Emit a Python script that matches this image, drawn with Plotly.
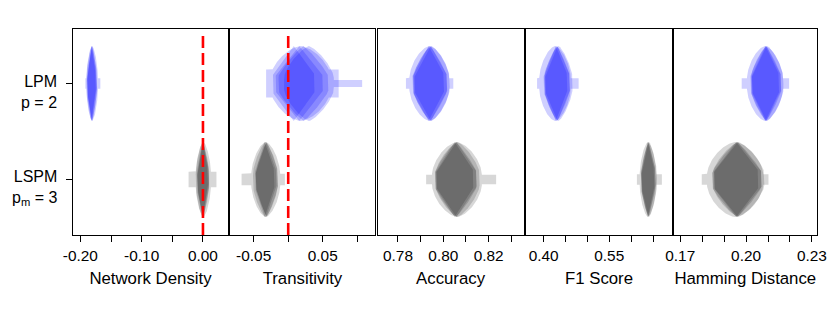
import numpy as np
import plotly.graph_objects as go

# ---------------- data ----------------
metrics = ["Network Density", "Transitivity", "Accuracy", "F1 Score", "Hamming Distance"]
models = ["LPM", "LSPM"]
model_labels = ["LPM<br>p = 2", "LSPM<br>p<sub>m</sub> = 3"]
model_pos = [1, 0]

# reference (true) values drawn as dashed red lines (None = no line)
ref_values = [0.0, 0.0, None, None, None]

# replicate-level density summaries: centres and half-widths of each replicate's violin
lpm_centres = [
    [-0.1820, -0.1812, -0.1805, -0.1815, -0.1808],
    [0.008, 0.016, 0.022, 0.030, 0.018],
    [0.7935, 0.7945, 0.7940, 0.7948, 0.7938],
    [0.428, 0.432, 0.430, 0.434, 0.426],
    [0.2088, 0.2093, 0.2090, 0.2096, 0.2086],
]
lpm_halfwidths = [
    [0.0070, 0.0075, 0.0080, 0.0085, 0.0095],
    [0.030, 0.034, 0.036, 0.036, 0.044],
    [0.0068, 0.0072, 0.0076, 0.0080, 0.0088],
    [0.026, 0.028, 0.030, 0.032, 0.036],
    [0.0062, 0.0066, 0.0070, 0.0074, 0.0082],
]
lspm_centres = [
    [-0.0005, 0.0003, 0.0000, -0.0008, 0.0006],
    [-0.034, -0.032, -0.031, -0.033, -0.0325],
    [0.8050, 0.8058, 0.8055, 0.8062, 0.8060],
    [0.638, 0.640, 0.639, 0.641, 0.6385],
    [0.1955, 0.1962, 0.1958, 0.1965, 0.1950],
]
lspm_halfwidths = [
    [0.0085, 0.0095, 0.0100, 0.0110, 0.0125],
    [0.014, 0.015, 0.016, 0.018, 0.021],
    [0.0082, 0.0088, 0.0092, 0.0098, 0.0110],
    [0.015, 0.016, 0.017, 0.018, 0.019],
    [0.0100, 0.0108, 0.0112, 0.0118, 0.0128],
]
# data ranges (min, max) of replicates -> low-density tails (attached to the last replicates)
lpm_ranges = [
    [(-0.1918, -0.1674)],
    [(-0.032, 0.073), (0.000, 0.107)],
    [(0.7835, 0.8044)],
    [(0.385, 0.480)],
    [(0.1980, 0.2196)],
]
lspm_ranges = [
    [(-0.0235, 0.0220)],
    [(-0.0675, -0.0048)],
    [(0.7924, 0.8233)],
    [(0.6132, 0.6703)],
    [(0.1798, 0.2102)],
]
lpm_tail_height = [[0.055], [0.145, 0.036], [0.055], [0.055], [0.055]]
lspm_tail_height = [[0.08], [0.06], [0.05], [0.055], [0.055]]

# axis ticks
tick_vals = [
    [-0.20, -0.10, 0.00],
    [-0.05, 0.05],
    [0.78, 0.80, 0.82],
    [0.40, 0.55],
    [0.17, 0.20, 0.23],
]
tick_text = [
    ["-0.20", "-0.10", "0.00"],
    ["-0.05", "0.05"],
    ["0.78", "0.80", "0.82"],
    ["0.40", "0.55"],
    ["0.17", "0.20", "0.23"],
]
minor_tick_vals = [
    [-0.15, -0.05],
    [0.00, 0.10],
    [0.79, 0.81, 0.83],
    [0.45, 0.50, 0.60, 0.65],
    [0.18, 0.19, 0.21, 0.22],
]
x_ranges = [
    [-0.212, 0.0408],
    [-0.0848, 0.126],
    [0.7710, 0.8354],
    [0.3598, 0.6934],
    [0.1670, 0.2323],
]

# ---------------- style ----------------
FONT = "Liberation Sans, Arial, Helvetica, sans-serif"
colors = {"LPM": "rgba(0,0,255,0.19)", "LSPM": "rgba(0,0,0,0.155)"}
layer_t0 = [0.25, 0.22, 0.2, 0.18, 0.15]
layer_r = [1.0, 1.0, 1.15, 1.35, 1.6]
H = 0.39
domains = [[0.0, 0.2083], [0.2105, 0.4063], [0.4094, 0.6056], [0.6089, 0.8051], [0.8073, 1.0]]
y_range = [-0.578, 1.568]

fig = go.Figure()


def profile(tt, w, t0, r):
    u = np.clip((np.abs(tt) - t0) / (1 - t0), 0, 1)
    return w * (1 - u ** r) ** (1 / r)


def add_poly(xs, ys, color, k):
    fig.add_trace(go.Scatter(
        x=xs, y=ys, fill="toself", fillcolor=color, mode="lines",
        line=dict(width=0, color=color), hoverinfo="skip", showlegend=False,
        xaxis="x" if k == 0 else f"x{k+1}", yaxis="y" if k == 0 else f"y{k+1}"))


for k in range(len(metrics)):
    groups = [
        ("LPM", model_pos[0], lpm_centres[k], lpm_halfwidths[k], lpm_ranges[k], lpm_tail_height[k]),
        ("LSPM", model_pos[1], lspm_centres[k], lspm_halfwidths[k], lspm_ranges[k], lspm_tail_height[k]),
    ]
    for name, y0, cs, ws, rngs, ths in groups:
        col = colors[name]
        n = len(cs)
        tails = {}
        for j, (rg, th) in enumerate(zip(rngs, ths)):
            tails[n - 1 - j] = (rg[0], rg[1], th)
        for i, (c, w) in enumerate(zip(cs, ws)):
            t0, r = layer_t0[i], layer_r[i]
            if i in tails:
                lo, hi, th = tails[i]
                up = np.linspace(th / H, 1, 60)
                left_x = c - profile(up, w, t0, r)
                right_x = c + profile(up[::-1], w, t0, r)
                ux = np.concatenate([[min(lo, left_x[0])], left_x, right_x, [max(hi, right_x[-1])]])
                uy = np.concatenate([[y0 + th], y0 + H * up, y0 + H * up[::-1], [y0 + th]])
                lx = ux[::-1]
                ly = (2 * y0 - uy)[::-1]
                xs = np.concatenate([ux, lx, [ux[0]]])
                ys = np.concatenate([uy, ly, [uy[0]]])
            else:
                tt = np.linspace(-1, 1, 121)
                prof = profile(tt, w, t0, r)
                xs = np.concatenate([c + prof, (c - prof)[::-1]])
                ys = np.concatenate([y0 + H * tt, (y0 + H * tt)[::-1]])
            add_poly(xs, ys, col, k)

layout = dict(
    width=830, height=312,
    margin=dict(l=72.7, r=13.3, t=29, b=77),
    paper_bgcolor="white", plot_bgcolor="white",
    font=dict(family=FONT, color="black", size=15),
    showlegend=False,
)
shapes = []
for k in range(len(metrics)):
    xa = "xaxis" if k == 0 else f"xaxis{k+1}"
    ya = "yaxis" if k == 0 else f"yaxis{k+1}"
    xr = "x" if k == 0 else f"x{k+1}"
    yr = "y" if k == 0 else f"y{k+1}"
    layout[xa] = dict(
        domain=domains[k], range=x_ranges[k], anchor=yr, automargin=False,
        showgrid=False, zeroline=False, showline=True, mirror=True,
        linecolor="black", linewidth=1.3,
        ticks="outside", ticklen=6, tickwidth=1, tickcolor="black",
        tickmode="array", tickvals=tick_vals[k], ticktext=tick_text[k],
        minor=dict(tickmode="array", tickvals=minor_tick_vals[k], ticks="outside",
                   ticklen=6, tickwidth=1, tickcolor="black", showgrid=False),
        tickfont=dict(size=15.4, family=FONT),
        title=dict(text=metrics[k], font=dict(size=16.8, family=FONT), standoff=9),
    )
    layout[ya] = dict(
        domain=[0, 1], range=y_range, anchor=xr, automargin=False,
        showgrid=False, zeroline=False, showline=True, mirror=True,
        linecolor="black", linewidth=1.3,
        ticks="outside" if k == 0 else "", ticklen=6, tickwidth=1, tickcolor="black",
        tickmode="array", tickvals=model_pos if k == 0 else [],
        showticklabels=False,
    )
    if ref_values[k] is not None:
        shapes.append(dict(
            type="line", xref=xr, yref=f"{yr} domain", x0=ref_values[k], x1=ref_values[k],
            y0=0, y1=0.98, line=dict(color="red", width=2.6, dash="12px,5px"), layer="above"))
layout["shapes"] = shapes

annotations = []
for lab, yp in zip(model_labels, model_pos):
    annotations.append(dict(
        text=lab, xref="paper", yref="y", x=-0.0194, y=yp,
        xanchor="right", yanchor="middle", align="right", showarrow=False,
        yshift=-8.5, font=dict(size=16, family=FONT, color="black")))
layout["annotations"] = annotations

fig.update_layout(**layout)
fig.write_html("out.html", config={"displayModeBar": False})

# remove the default page margin so the figure sits at the window origin
with open("out.html", "r", encoding="utf-8") as f:
    html = f.read()
html = html.replace("<head>", "<head><style>html,body{margin:0;padding:0;overflow:hidden;}</style>", 1)
with open("out.html", "w", encoding="utf-8") as f:
    f.write(html)
